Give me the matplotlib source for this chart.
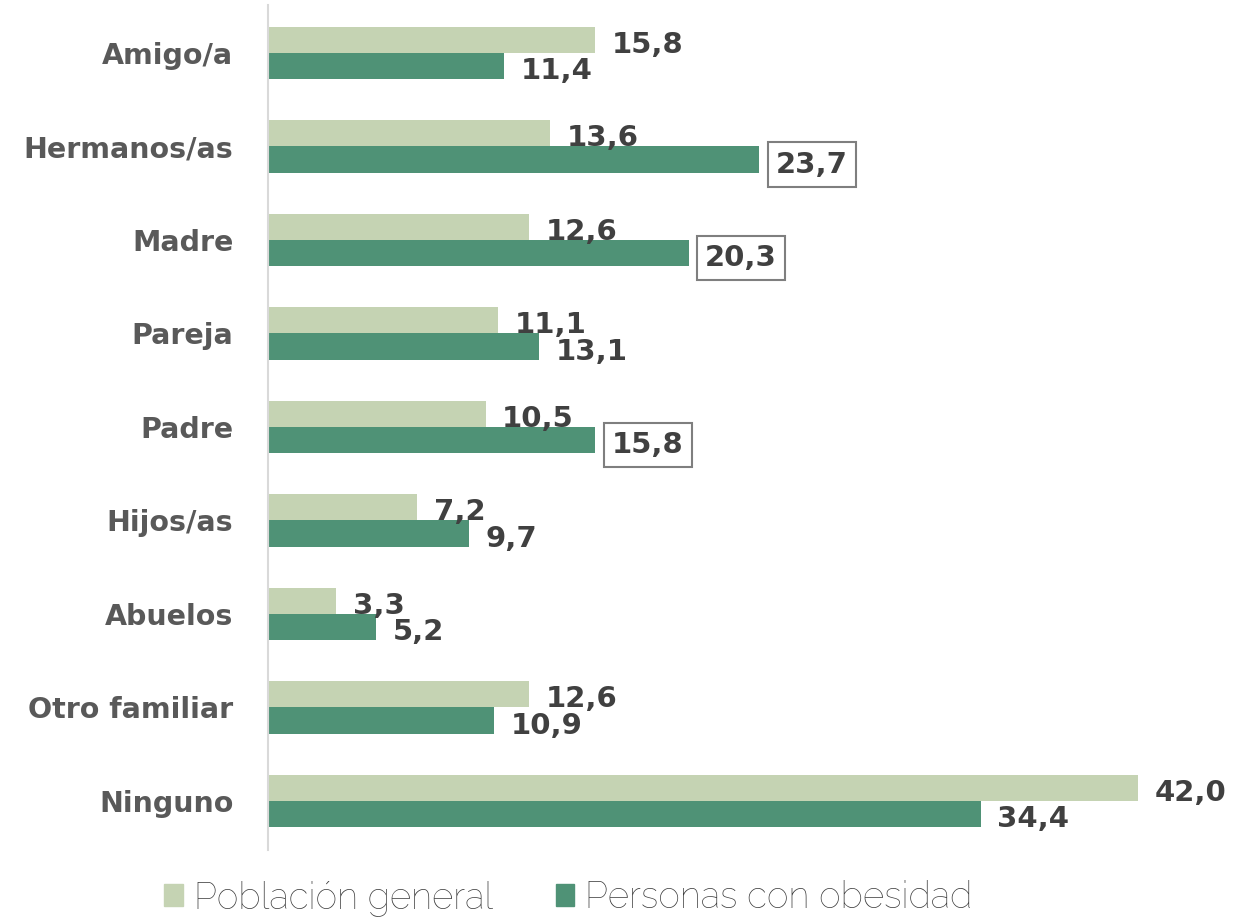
import matplotlib
matplotlib.use('Agg')
import matplotlib.pyplot as plt
from matplotlib.patches import Patch
import numpy as np

# Datos del gráfico
categorias = ['Amigo/a', 'Hermanos/as', 'Madre', 'Pareja', 'Padre',
              'Hijos/as', 'Abuelos', 'Otro familiar', 'Ninguno']
poblacion_general = [15.8, 13.6, 12.6, 11.1, 10.5, 7.2, 3.3, 12.6, 42.0]
personas_obesidad = [11.4, 23.7, 20.3, 13.1, 15.8, 9.7, 5.2, 10.9, 34.4]
destacados = ['Hermanos/as', 'Madre', 'Padre']

color_claro = '#c5d3b3'
color_oscuro = '#4f9276'
color_valor = '#404040'
color_cat = '#595959'

plt.rcParams['font.family'] = ['DejaVu Sans']

fig = plt.figure(figsize=(12.33, 9.17), dpi=100)
ax = fig.add_axes([268 / 1233, 67 / 917, 953 / 1233, 845 / 917])

y = np.arange(len(categorias))
h = 0.283

ax.barh(y - h / 2, poblacion_general, height=h, color=color_claro)
ax.barh(y + h / 2, personas_obesidad, height=h, color=color_oscuro)

def fmt(v):
    return f'{v:.1f}'.replace('.', ',')

# Etiquetas de valores
for i, cat in enumerate(categorias):
    ax.annotate(fmt(poblacion_general[i]), (poblacion_general[i], y[i] - h / 2),
                xytext=(12, -3.5), textcoords='offset points', va='center', ha='left',
                fontsize=21, fontweight='bold', color=color_valor)
    caja = None
    if cat in destacados:
        caja = dict(boxstyle='square,pad=0.28', fc='white', ec='#7f7f7f', lw=1.5)
    ax.annotate(fmt(personas_obesidad[i]), (personas_obesidad[i], y[i] + h / 2),
                xytext=(12, -3.5), textcoords='offset points', va='center', ha='left',
                fontsize=21, fontweight='bold', color=color_valor, bbox=caja)

ax.set_xlim(0, 46)
ax.set_ylim(8.524, -0.513)
ax.set_yticks(y)
ax.set_yticklabels(categorias, fontsize=20.5, fontweight='bold', color=color_cat)
ax.tick_params(axis='y', length=0, pad=25)
ax.set_xticks([])
for s in ['top', 'right', 'bottom']:
    ax.spines[s].set_visible(False)
ax.spines['left'].set_color('#d9d9d9')
ax.spines['left'].set_linewidth(1.5)

handles = [Patch(color=color_claro, label='Población general'),
           Patch(color=color_oscuro, label='Personas con obesidad')]
leg = fig.legend(handles=handles, loc='center', bbox_to_anchor=(0.461, 0.021),
                 ncol=2, frameon=False, handlelength=0.5, handleheight=0.55,
                 handletextpad=0.3, columnspacing=1.7,
                 prop={'family': ['Raleway', 'Open Sans', 'DejaVu Sans'],
                       'weight': 'light', 'size': 26.5})
for t in leg.get_texts():
    t.set_color('#3a3a3a')

fig.savefig('out.png', dpi=100)
